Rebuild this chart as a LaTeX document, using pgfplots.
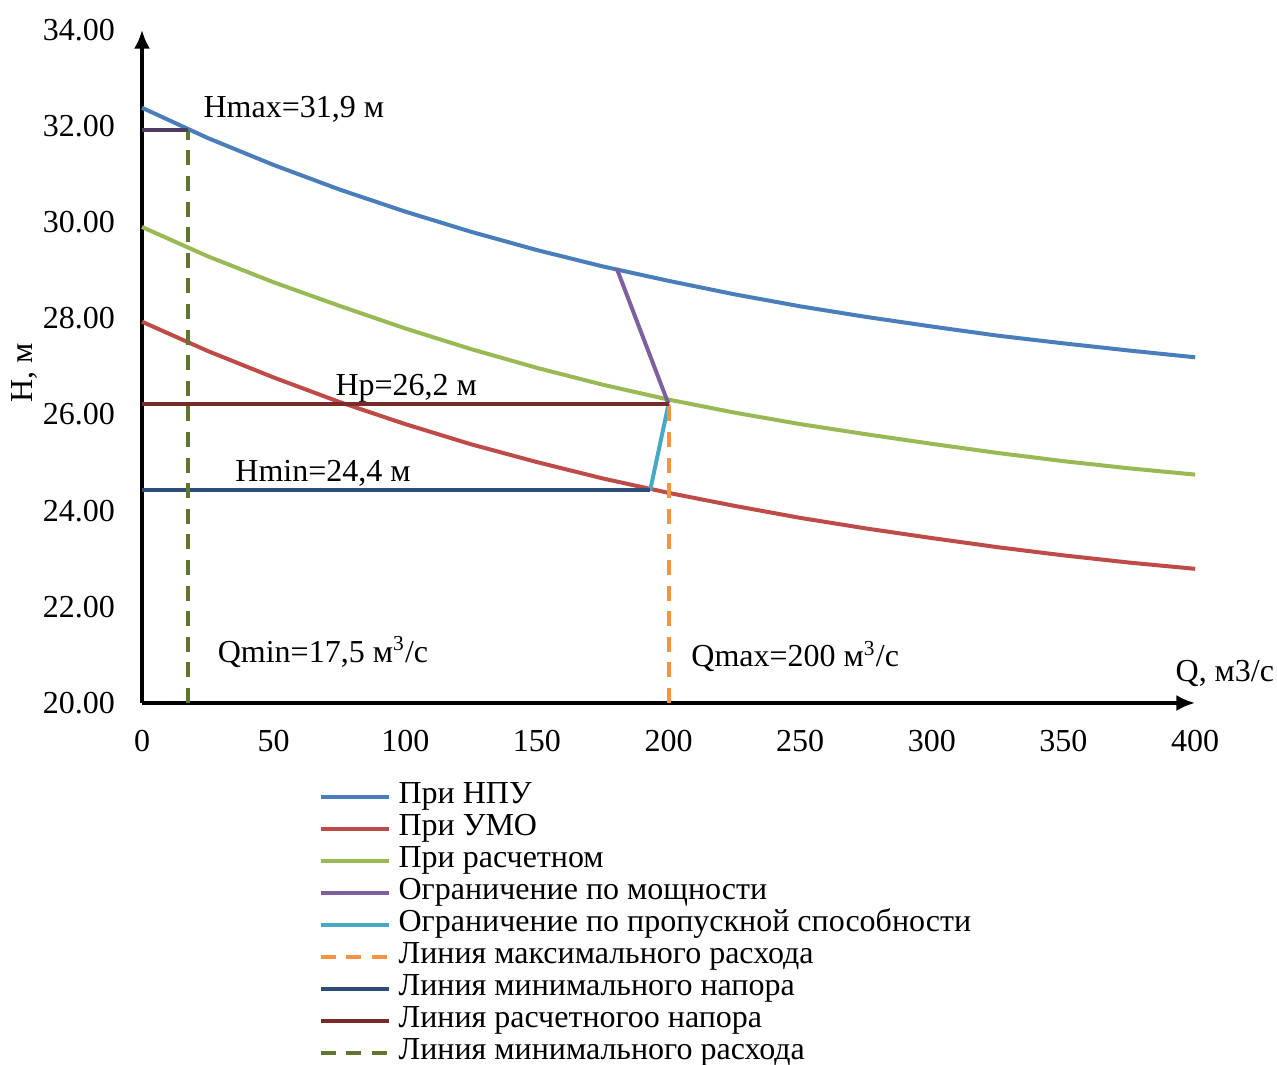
\documentclass[border=0pt]{standalone}
\usepackage{fontspec}
\setmainfont{Liberation Serif}
\usepackage{pgfplots}
\pgfplotsset{compat=1.18}
\usetikzlibrary{arrows.meta}
\definecolor{cblue}{HTML}{4A7EBB}
\definecolor{cred}{HTML}{BE4B48}
\definecolor{cgreen}{HTML}{98B954}
\definecolor{cpurple}{HTML}{7D60A0}
\definecolor{caqua}{HTML}{46AAC5}
\definecolor{corange}{HTML}{F69240}
\definecolor{cnavy}{HTML}{2C4D75}
\definecolor{cdred}{HTML}{772C2A}
\definecolor{colive}{HTML}{5F7530}
\definecolor{cdpurple}{HTML}{4D3B62}
\begin{document}
\fontsize{12}{14}\selectfont
\begin{tikzpicture}
\path[use as bounding box] (-53.25pt,-135.75pt) rectangle (425.6pt,263.6pt);
\begin{axis}[
  at={(0pt,0pt)}, anchor=south west,
  scale only axis, width=394.9pt, height=252.4pt,
  xmin=0, xmax=400, ymin=20, ymax=34,
  clip=false,
  axis lines=left,
  axis line style={line width=1.3pt, -{Latex[length=7pt,width=6pt]}},
  xtick={0,50,...,400}, ytick={20,22,...,34},
  major tick length=0pt,
  /pgf/number format/assume math mode=true,
  yticklabel style={/pgf/number format/.cd, fixed, fixed zerofill, precision=2, /tikz/.cd, xshift=-6pt},
  xticklabel style={yshift=-6pt},
  every tick label/.append style={font=\fontsize{12}{14}\selectfont},
  legend style={at={(0.1596,-0.1066)}, anchor=north west, draw=none, fill=none,
     font=\fontsize{12}{14}\selectfont,
     nodes={inner sep=0pt, text height=8.5pt, text depth=3.5pt},
     row sep=0pt, /tikz/every odd column/.append style={column sep=3pt}},
  legend cell align=left,
  legend image code/.code={\draw[#1] (0pt,0pt) -- (25.5pt,0pt);},
  every axis plot/.append style={line width=1.5pt},
]
\addplot[cblue, no marks] coordinates {
(0,32.38) (25,31.75) (50,31.19) (75,30.68) (100,30.22) (125,29.80) (150,29.42) (175,29.08) (200,28.78) (225,28.50) (250,28.25) (275,28.03) (300,27.83) (325,27.64) (350,27.48) (375,27.33) (400,27.19)};
\addlegendentry{При НПУ}
\addplot[cred, no marks] coordinates {
(0,27.93) (25,27.32) (50,26.77) (75,26.26) (100,25.80) (125,25.38) (150,25.01) (175,24.67) (200,24.37) (225,24.10) (250,23.85) (275,23.63) (300,23.43) (325,23.24) (350,23.07) (375,22.92) (400,22.79)};
\addlegendentry{При УМО}
\addplot[cgreen, no marks] coordinates {
(0,29.90) (25,29.29) (50,28.75) (75,28.26) (100,27.79) (125,27.36) (150,26.97) (175,26.62) (200,26.31) (225,26.04) (250,25.80) (275,25.59) (300,25.39) (325,25.20) (350,25.03) (375,24.88) (400,24.75)};
\addlegendentry{При расчетном}
\addplot[cpurple, no marks] coordinates {(180.3,29.04) (199.9,26.23)};
\addlegendentry{Ограничение по мощности}
\addplot[caqua, no marks] coordinates {(193,24.42) (200,26.22)};
\addlegendentry{Ограничение по пропускной способности}
\addplot[corange, no marks, dash pattern=on 5.6pt off 4pt] coordinates {(200,20) (200,26.22)};
\addlegendentry{Линия максимального расхода}
\addplot[cnavy, no marks] coordinates {(0,24.42) (193,24.42)};
\addlegendentry{Линия минимального напора}
\addplot[cdred, no marks] coordinates {(0,26.22) (200,26.22)};
\addlegendentry{Линия расчетногоо напора}
\addplot[colive, no marks, dash pattern=on 5.6pt off 4pt] coordinates {(17.5,20) (17.5,31.92)};
\addlegendentry{Линия минимального расхода}
\addplot[cdpurple, no marks, forget plot] coordinates {(0,31.92) (17.5,31.92)};
\node[anchor=base west, inner sep=0pt] at (axis cs:23.2,32.17) {Hmax=31,9 м};
\node[anchor=base west, inner sep=0pt] at (axis cs:73.3,26.39) {Hp=26,2 м};
\node[anchor=base west, inner sep=0pt] at (axis cs:35.3,24.6) {Hmin=24,4 м};
\node[anchor=base west, inner sep=0pt] at (axis cs:28.6,20.85) {Qmin=17,5 м\textsuperscript{3}/с};
\node[anchor=base west, inner sep=0pt] at (axis cs:208.5,20.75) {Qmax=200 м\textsuperscript{3}/с};
\node[anchor=base west, inner sep=0pt] at (axis cs:392.4,20.44) {Q, м3/с};
\node[rotate=90, anchor=center, inner sep=0pt] at (axis cs:-44.5,26.87) {H, м};
\end{axis}
\end{tikzpicture}
\end{document}
